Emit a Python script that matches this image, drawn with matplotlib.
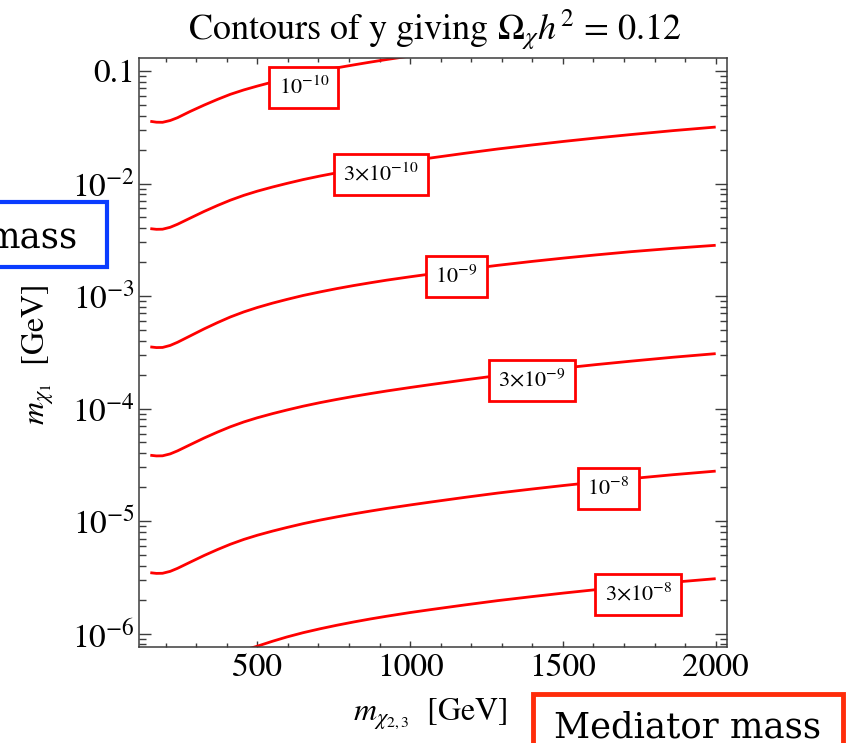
import numpy as np
import matplotlib
matplotlib.use("Agg")
import matplotlib.pyplot as plt
from matplotlib.patches import Rectangle
from matplotlib.ticker import FixedLocator, FixedFormatter, MultipleLocator, LogLocator, NullFormatter

plt.rcParams['mathtext.fontset'] = 'stix'
plt.rcParams['font.family'] = ['STIXGeneral', 'DejaVu Serif']

# contour levels of the coupling y
levels = ["$10^{-10}$", r"$3{\times}10^{-10}$", "$10^{-9}$",
          r"$3{\times}10^{-9}$", "$10^{-8}$", r"$3{\times}10^{-8}$"]

# mediator mass m_chi2,3 [GeV], shared by all contours
m_med = [150, 170, 190, 215, 239, 280, 326, 370, 412, 456, 500, 550, 597, 650, 706,
         760, 815, 870, 923, 1000, 1070, 1180, 1287, 1400, 1505, 1610, 1722, 1860, 2000]

# log10 of m_chi1 [GeV] along each contour
lg_1e10 = [-1.447, -1.455, -1.456, -1.440, -1.415, -1.360, -1.303, -1.252, -1.207, -1.168,
           -1.134, -1.098, -1.066, -1.033, -1.001, -0.972, -0.946, -0.921, -0.898, -0.867,
           -0.840, -0.799, -0.761, -0.725, -0.693, -0.663, -0.633, -0.598, -0.566]
lg_3e10 = [-2.401, -2.407, -2.406, -2.389, -2.362, -2.308, -2.248, -2.195, -2.148, -2.105,
           -2.068, -2.031, -1.999, -1.965, -1.933, -1.905, -1.878, -1.853, -1.830, -1.799,
           -1.772, -1.731, -1.693, -1.657, -1.625, -1.595, -1.565, -1.530, -1.498]
lg_1e9 = [-3.452, -3.458, -3.457, -3.439, -3.411, -3.355, -3.292, -3.236, -3.186, -3.141,
          -3.102, -3.063, -3.030, -2.995, -2.963, -2.934, -2.907, -2.882, -2.859, -2.829,
          -2.803, -2.763, -2.727, -2.692, -2.662, -2.634, -2.606, -2.576, -2.549]
lg_3e9 = [-4.415, -4.421, -4.420, -4.403, -4.376, -4.322, -4.262, -4.209, -4.162, -4.119,
          -4.082, -4.045, -4.013, -3.979, -3.947, -3.919, -3.892, -3.867, -3.844, -3.813,
          -3.786, -3.745, -3.707, -3.671, -3.639, -3.609, -3.579, -3.544, -3.512]
lg_1e8 = [-5.459, -5.465, -5.464, -5.447, -5.420, -5.366, -5.306, -5.253, -5.206, -5.163,
          -5.126, -5.089, -5.057, -5.023, -4.991, -4.963, -4.936, -4.911, -4.888, -4.857,
          -4.830, -4.789, -4.751, -4.715, -4.683, -4.653, -4.623, -4.588, -4.556]
lg_3e8 = [-6.415, -6.421, -6.420, -6.403, -6.376, -6.322, -6.262, -6.220, -6.184, -6.148,
          -6.112, -6.068, -6.030, -5.992, -5.957, -5.926, -5.897, -5.870, -5.846, -5.813,
          -5.786, -5.745, -5.707, -5.671, -5.639, -5.609, -5.579, -5.544, -5.512]

contours = [lg_1e10, lg_3e10, lg_1e9, lg_3e9, lg_1e8, lg_3e8]

# where each contour label sits
label_x = [652, 904, 1151, 1399, 1649, 1747]
label_y = [0.0710, 0.01202, 1.489e-3, 1.782e-4, 1.954e-5, 2.239e-6]

xticks = [500, 1000, 1500, 2000]
xticklabels = ["500", "1000", "1500", "2000"]
yticks = [1e-6, 1e-5, 1e-4, 1e-3, 1e-2, 1e-1]
yticklabels = ["$10^{-6}$", "$10^{-5}$", "$10^{-4}$", "$10^{-3}$", "$10^{-2}$", "0.1"]

W, H = 848, 743
fig = plt.figure(figsize=(W / 100, H / 100), dpi=100)
ax = fig.add_axes([139 / W, 1 - 647 / H, 588 / W, 589 / H])

for lg in contours:
    ax.plot(m_med, 10.0 ** np.array(lg), color='#ff0000', lw=2.0,
            solid_joinstyle='round', solid_capstyle='butt')

for lx, ly, lab in zip(label_x, label_y, levels):
    ax.text(lx, ly, lab, ha='center', va='center', fontsize=16,
            bbox=dict(boxstyle='square,pad=0.42', fc='white', ec='#ff0000', lw=2.0))

ax.set_yscale('log')
ax.set_xlim(113, 2037)
ax.set_ylim(7.6e-7, 0.1305)

ax.xaxis.set_major_locator(FixedLocator(xticks))
ax.xaxis.set_major_formatter(FixedFormatter(xticklabels))
ax.xaxis.set_minor_locator(MultipleLocator(100))
ax.yaxis.set_major_locator(FixedLocator(yticks))
ax.yaxis.set_major_formatter(FixedFormatter(yticklabels))
ax.yaxis.set_minor_locator(LogLocator(base=10, subs=np.arange(2, 10)))
ax.yaxis.set_minor_formatter(NullFormatter())

frame = '#3c3c3c'
for s in ax.spines.values():
    s.set_color(frame)
    s.set_linewidth(1.1)
ax.tick_params(which='both', direction='in', top=True, right=True, color=frame, width=1.0,
               labelsize=24, labelcolor='black')
ax.tick_params(axis='x', which='major', length=4.5, pad=5)
ax.tick_params(axis='x', which='minor', length=3)
ax.tick_params(axis='y', which='major', length=8.5, pad=3)
ax.tick_params(axis='y', which='minor', length=5)

fig.text(434.5 / W, 1 - 40.5 / H, r"Contours of y giving $\Omega_\chi h^2$ = 0.12",
         ha='center', va='baseline', fontsize=26)
fig.text(430 / W, 1 - 720 / H, r"$m_{\chi_{2,3}}$  [GeV]", ha='center', va='baseline', fontsize=23)
fig.text(38.5 / W, 1 - 355 / H, r"$m_{\chi_1}$  [GeV]", ha='center', va='center',
         rotation=90, fontsize=23)

# annotation boxes around the axis titles
fig.patches.append(Rectangle((-10 / W, 1 - 267 / H), 116.5 / W, 65 / H, transform=fig.transFigure,
                             fill=False, ec='#0a3cff', lw=3.0))
fig.text(78 / W, 1 - 248 / H, "mass", ha='right', va='baseline', fontsize=25.5,
         family='DejaVu Serif')
fig.patches.append(Rectangle((533 / W, -20 / H), 309.5 / W, (20 + 49) / H, transform=fig.transFigure,
                             fill=False, ec='#ff2d0a', lw=3.5))
fig.text(554 / W, 1 - 737 / H, "Mediator mass", ha='left', va='baseline', fontsize=25.5,
         family='DejaVu Serif')

fig.savefig("out.png", dpi=100)
